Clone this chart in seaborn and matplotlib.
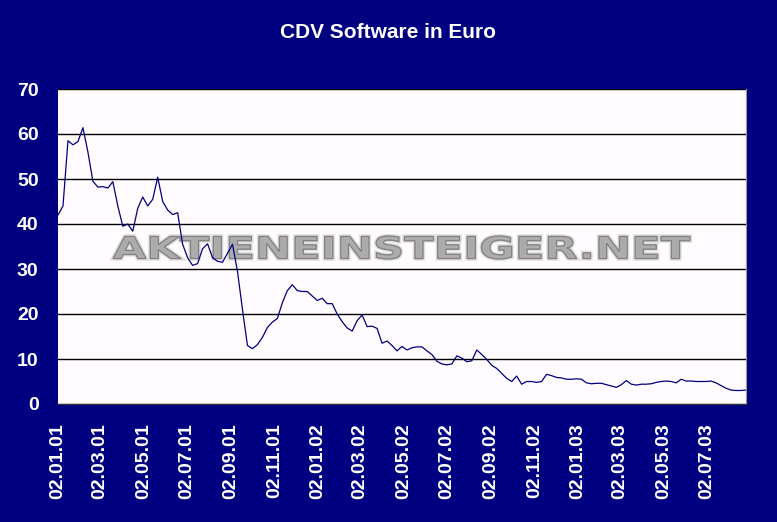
import numpy as np
import pandas as pd
import matplotlib
matplotlib.use('Agg')
import matplotlib.pyplot as plt
import matplotlib.dates as mdates
import matplotlib.patheffects as pe
from matplotlib.textpath import TextPath
from matplotlib.patches import PathPatch
from matplotlib.font_manager import FontProperties
import matplotlib.transforms as mtransforms
import seaborn as sns

# Wochenkurse CDV Software (Euro), ab 02.01.2001
START_DATE = '2001-01-02'
price = [
    42.0, 44.0, 58.5, 57.6, 58.3, 61.4, 56.0, 49.5, 48.2, 48.3,
    48.0, 49.4, 44.0, 39.5, 40.0, 38.4, 43.5, 46.0, 44.0, 45.5,
    50.4, 45.0, 43.1, 42.1, 42.5, 35.5, 32.5, 30.8, 31.2, 34.5,
    35.6, 32.5, 31.7, 31.5, 33.5, 35.5, 29.5, 21.0, 13.0, 12.3,
    13.2, 14.8, 17.0, 18.2, 19.0, 22.5, 25.2, 26.5, 25.2, 25.0,
    25.0, 24.0, 23.0, 23.5, 22.3, 22.3, 20.0, 18.3, 16.9, 16.2,
    18.5, 19.8, 17.2, 17.3, 16.8, 13.5, 14.0, 13.0, 11.8, 12.8,
    12.0, 12.5, 12.7, 12.7, 11.8, 11.0, 9.5, 8.9, 8.7, 8.9,
    10.7, 10.2, 9.4, 9.6, 12.0, 11.0, 9.9, 8.6, 7.9, 6.8,
    5.7, 5.0, 6.2, 4.4, 5.0, 5.0, 4.8, 5.0, 6.6, 6.3,
    5.9, 5.8, 5.5, 5.5, 5.6, 5.5, 4.7, 4.5, 4.6, 4.6,
    4.3, 4.0, 3.7, 4.3, 5.2, 4.4, 4.2, 4.4, 4.4, 4.5,
    4.8, 5.0, 5.1, 5.0, 4.7, 5.5, 5.1, 5.1, 5.0, 5.0,
    5.0, 5.1, 4.7, 4.1, 3.5, 3.1, 3.0, 3.0, 3.1,
]
y_ticks = [0, 10, 20, 30, 40, 50, 60, 70]
title = 'CDV Software in Euro'
watermark = 'AKTIENEINSTEIGER.NET'

NAVY = '#000080'
PLOT_BG = '#fffbff'

df = pd.DataFrame({
    'Datum': pd.date_range(START_DATE, periods=len(price), freq='7D'),
    'Kurs': price,
})

sns.set_style('white')
plt.rcParams['font.family'] = ['Liberation Sans', 'DejaVu Sans']

fig = plt.figure(figsize=(7.77, 5.22), dpi=100, facecolor=NAVY)
ax = fig.add_axes([58 / 777, 118 / 522, 688 / 777, 315 / 522])
ax.set_facecolor(PLOT_BG)

sns.lineplot(data=df, x='Datum', y='Kurs', ax=ax, color='#000080', lw=0.9, zorder=4)

ax.set_ylim(0, 70)
ax.set_yticks(y_ticks)
ax.set_xlim(df['Datum'].iloc[0], df['Datum'].iloc[-1])
ax.xaxis.set_major_locator(mdates.MonthLocator(bymonth=[1, 3, 5, 7, 9, 11], bymonthday=2))
ax.xaxis.set_major_formatter(mdates.DateFormatter('%d.%m.%y'))

ax.yaxis.grid(True, color='black', lw=1.0, zorder=1)
ax.xaxis.grid(False)
ax.set_axisbelow(True)
for side in ['top', 'left']:
    ax.spines[side].set_visible(False)
ax.spines['bottom'].set_color('#333333')
ax.spines['right'].set_color('#999999')

ax.tick_params(axis='both', colors='#222244', length=4, width=1, direction='out')
ax.tick_params(axis='y', labelcolor='white', labelsize=14, pad=10)
ax.tick_params(axis='x', labelcolor='white', labelsize=14, pad=10, labelrotation=90)
for lab in ax.get_xticklabels() + ax.get_yticklabels():
    lab.set_fontweight('bold')
ax.set_xlabel('')
ax.set_ylabel('')

fig.text(0.5, 1 - 32 / 522, title, color='white', fontsize=15, fontweight='bold',
         ha='center', va='center')

# Wasserzeichen, breit gezogen
tp = TextPath((0, 0), watermark, size=1, prop=FontProperties(family='DejaVu Sans', weight='bold'))
bb = tp.get_extents()
sx = 577 / bb.width
sy = 23 / bb.height
trans = (mtransforms.Affine2D().translate(-bb.x0, -bb.y0).scale(sx / 777, sy / 522)
         .translate(113 / 777, 1 - 259 / 522) + fig.transFigure)
patch = PathPatch(tp, transform=trans, facecolor='#aaaaaa', edgecolor='#7c7c7c', lw=1.0,
                  zorder=3, alpha=0.9)
patch.set_path_effects([pe.withStroke(linewidth=3, foreground='#dcdcdc')])
ax.add_artist(patch)

fig.savefig('out.png', dpi=100, facecolor=NAVY)
